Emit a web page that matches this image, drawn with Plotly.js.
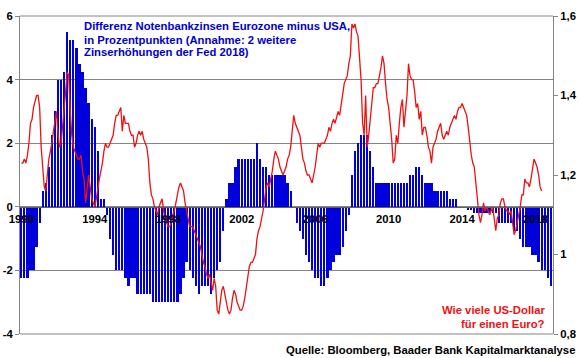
<!DOCTYPE html>
<html><head><meta charset="utf-8">
<script src="https://cdn.plot.ly/plotly-3.0.1.min.js"></script>
<style>html,body{margin:0;padding:0;background:#fff}#chart{width:580px;height:358px}</style>
</head><body><div id="chart"></div>
<script>
// Interest-rate differential Eurozone minus USA (percentage points), 2-monthly windows from Jan 1990
const diffStartYear = 1990;
const diffPerYear = 6;
const rateDiff = [
  -2.25,-2.25,-2.25,-2.0,-2.0,-1.25,
  -0.5,0.5,0.75,1.25,2.25,3.0,
  4.0,4.0,4.25,5.5,5.25,5.25,
  5.0,4.5,4.25,3.75,3.25,2.75,
  2.5,1.75,0.25,0.25,-0.25,-1.0,
  -1.5,-2.0,-2.0,-2.0,-2.25,-2.5,
  -2.25,-2.25,-2.75,-2.75,-2.75,-2.75,
  -2.75,-3.0,-3.0,-3.0,-3.0,-3.0,
  -3.0,-3.0,-3.0,-3.0,-2.75,-2.25,
  -1.75,-2.0,-2.25,-2.5,-2.75,-2.5,
  -2.5,-2.5,-2.75,-2.25,-2.0,-1.75,
  -0.75,0.25,0.75,0.75,1.25,1.5,
  1.5,1.5,1.5,1.5,1.5,2.0,
  1.5,1.25,1.25,1.0,1.0,1.0,
  1.0,1.0,1.0,0.75,0.5,0.0,
  -0.5,-0.75,-1.0,-1.5,-1.75,-2.0,
  -2.25,-2.25,-2.5,-2.5,-2.25,-2.0,
  -1.75,-1.5,-1.5,-1.25,-0.75,-0.25,
  1.0,1.75,2.0,2.25,2.25,2.25,
  1.75,1.25,0.75,0.75,0.75,0.75,
  0.75,0.75,0.75,0.75,0.75,0.75,
  0.75,1.0,1.0,1.25,1.25,1.0,
  0.75,0.75,0.75,0.5,0.5,0.5,
  0.5,0.5,0.25,0.25,0.25,0.0,
  0.0,0.0,-0.1,-0.1,-0.2,-0.2,
  -0.2,-0.2,-0.2,-0.2,-0.2,-0.2,
  -0.5,-0.5,-0.5,-0.5,-0.5,-0.75,
  -0.75,-1.0,-1.25,-1.25,-1.25,-1.5,
  -1.5,-1.75,-2.0,-2.0,-2.25,-2.5
];

// EUR/USD (US-Dollar per Euro), monthly from Jan 1990
const fxStartYear = 1990;
const fxPerYear = 12;
const eurUsd = [
  1.23,1.23,1.24,1.23,1.25,1.28,1.33,1.34,1.37,1.39,1.40,1.40,
  1.37,1.27,1.21,1.17,1.16,1.20,1.24,1.26,1.28,1.31,1.34,1.36,
  1.30,1.27,1.28,1.32,1.36,1.41,1.46,1.45,1.36,1.30,1.27,1.26,
  1.25,1.24,1.24,1.25,1.21,1.19,1.13,1.16,1.20,1.17,1.14,1.13,
  1.12,1.14,1.17,1.19,1.21,1.23,1.26,1.28,1.27,1.27,1.28,1.29,
  1.30,1.33,1.35,1.35,1.36,1.37,1.31,1.35,1.33,1.33,1.33,1.31,
  1.30,1.30,1.27,1.28,1.30,1.31,1.30,1.31,1.29,1.28,1.27,1.24,
  1.18,1.15,1.14,1.12,1.11,1.10,1.12,1.13,1.14,1.11,1.08,1.08,
  1.07,1.07,1.08,1.10,1.11,1.13,1.15,1.17,1.18,1.17,1.16,1.13,
  1.11,1.09,1.07,1.07,1.07,1.06,1.05,1.04,1.03,1.02,1.00,0.98,
  0.97,0.95,0.94,0.95,0.93,0.91,0.94,0.92,0.86,0.85,0.88,0.91,
  0.92,0.90,0.88,0.86,0.85,0.86,0.89,0.91,0.90,0.88,0.87,0.86,
  0.86,0.87,0.89,0.92,0.95,0.97,0.98,0.98,0.99,1.00,1.04,1.06,
  1.07,1.09,1.11,1.14,1.17,1.18,1.17,1.19,1.21,1.24,1.26,1.25,
  1.24,1.22,1.21,1.20,1.21,1.22,1.24,1.25,1.27,1.31,1.35,1.33,
  1.32,1.31,1.30,1.27,1.24,1.23,1.21,1.20,1.20,1.19,1.18,1.20,
  1.22,1.25,1.28,1.27,1.28,1.28,1.28,1.29,1.30,1.32,1.31,1.33,
  1.34,1.33,1.35,1.36,1.35,1.38,1.40,1.43,1.44,1.45,1.48,1.50,
  1.58,1.57,1.58,1.56,1.55,1.50,1.44,1.33,1.30,1.40,1.27,1.30,
  1.34,1.38,1.42,1.42,1.43,1.43,1.45,1.47,1.50,1.48,1.43,1.39,
  1.37,1.33,1.29,1.23,1.24,1.30,1.28,1.33,1.37,1.39,1.32,1.36,
  1.40,1.48,1.45,1.44,1.44,1.41,1.37,1.38,1.34,1.36,1.30,1.32,
  1.32,1.30,1.27,1.26,1.23,1.27,1.28,1.29,1.31,1.32,1.33,1.30,
  1.29,1.30,1.31,1.30,1.32,1.33,1.34,1.35,1.34,1.36,1.37,1.37,
  1.38,1.37,1.36,1.35,1.32,1.28,1.25,1.23,1.22,1.18,1.13,1.10,
  1.08,1.10,1.13,1.11,1.12,1.11,1.10,1.11,1.12,1.09,1.06,1.09,
  1.10,1.13,1.14,1.14,1.12,1.11,1.11,1.10,1.11,1.08,1.05,1.06,
  1.08,1.10,1.12,1.15,1.15,1.19,1.18,1.18,1.17,1.19,1.22,1.24,
  1.23,1.22,1.20,1.17,1.16
];

const xTickYears = [1990,1994,1998,2002,2006,2010,2014,2018];
const leftTicks = [-4,-2,0,2,4,6];
const leftTickText = ['-4','-2','0','2','4','6'];
const rightTicks = [0.8,1.0,1.2,1.4,1.6];
const rightTickText = ['0,8','1','1,2','1,4','1,6'];

const titleLines = ['Differenz Notenbankzinsen Eurozone minus USA,',
                    'in Prozentpunkten (Annahme: 2 weitere',
                    'Zinserhöhungen der Fed 2018)'];
const fxLabelLines = ['Wie viele US-Dollar','für einen Euro?'];
const sourceText = 'Quelle: Bloomberg, Baader Bank Kapitalmarktanalyse';

const barX = rateDiff.map((_, i) => diffStartYear + i / diffPerYear);
const lineX = eurUsd.map((_, i) => fxStartYear + i / fxPerYear);

const FONT = 'Liberation Sans, Arial, sans-serif';
const GRID = '#858585';
const BLUE = '#0000cc';
const RED = '#ee1111';

const traces = [
  {type:'bar', x:barX, y:rateDiff, width:0.125, marker:{color:'#0000dd', line:{width:0}}, yaxis:'y', xaxis:'x', hoverinfo:'skip'},
  {type:'scatter', mode:'lines', x:lineX, y:eurUsd, line:{color:RED, width:1.3}, yaxis:'y2', xaxis:'x', hoverinfo:'skip'}
];

const PL = 20, PR = 553, PT = 16, PB = 334;
const px = v => (v - PL) / (PR - PL);
const py = v => (PB - v) / (PB - PT);

const annotations = [];
[25.5, 39.5, 52].forEach((yy, i) => annotations.push({
  xref:'paper', yref:'paper', x:px(82), y:py(yy), xanchor:'left', yanchor:'middle',
  text:'<b>'+titleLines[i]+'</b>', showarrow:false, font:{family:FONT, size:11.3, color:BLUE}
}));
[310, 323.5].forEach((yy, i) => annotations.push({
  xref:'paper', yref:'paper', x:px(547), y:py(yy), xanchor:'right', yanchor:'middle',
  text:'<b>'+fxLabelLines[i]+'</b>', showarrow:false, font:{family:FONT, size:11.3, color:RED}
}));
annotations.push({
  xref:'paper', yref:'paper', x:px(577), y:py(350), xanchor:'right', yanchor:'middle',
  text:'<b>'+sourceText+'</b>', showarrow:false, font:{family:FONT, size:11.3, color:'#000'}
});

const layout = {
  width:580, height:358,
  margin:{l:PL, r:580-PR, t:PT, b:358-PB, pad:0},
  paper_bgcolor:'#fff', plot_bgcolor:'#fff',
  showlegend:false, bargap:0,
  xaxis:{range:[1989.93, 2018.95], tickvals:xTickYears, ticktext:xTickYears.map(y=>'<b>'+y+'</b>'),
         anchor:'free', position:0.4, showgrid:false, zeroline:false, showline:true, linecolor:'#606060', linewidth:1,
         ticks:'', ticklabelstandoff:2, tickfont:{family:FONT, size:11.3, color:'#000'}, fixedrange:true},
  yaxis:{range:[-4,6], tickvals:leftTicks, ticktext:leftTickText.map(t=>'<b>'+t+'</b>'),
         showgrid:true, gridcolor:GRID, gridwidth:1, zeroline:false, showline:true, linecolor:GRID,
         ticks:'outside', ticklen:4, tickcolor:GRID, tickfont:{family:FONT, size:11.3, color:'#000'}, fixedrange:true},
  yaxis2:{range:[0.8,1.6], overlaying:'y', side:'right', tickvals:rightTicks, ticktext:rightTickText.map(t=>'<b>'+t+'</b>'),
         showgrid:false, zeroline:false, showline:true, linecolor:GRID, ticks:'outside', ticklen:4, tickcolor:GRID,
         tickfont:{family:FONT, size:11.3, color:'#000'}, fixedrange:true},
  shapes:[
    {type:'line', xref:'paper', yref:'paper', x0:0, x1:1, y0:1, y1:1, line:{color:GRID, width:1}},
    {type:'line', xref:'paper', yref:'paper', x0:0, x1:1, y0:0, y1:0, line:{color:GRID, width:1}}
  ],
  annotations:annotations
};

Plotly.newPlot('chart', traces, layout, {staticPlot:true, displayModeBar:false});
</script></body></html>
